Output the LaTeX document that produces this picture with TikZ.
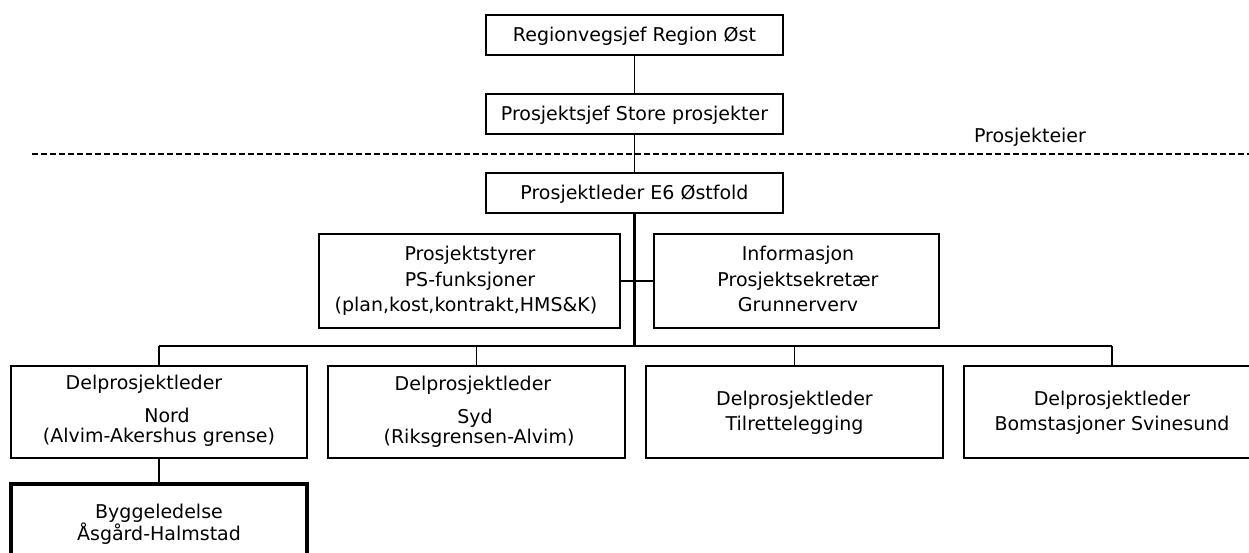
\documentclass[tikz,border=0pt]{standalone}
\usepackage{fontspec}
\setmainfont{DejaVu Sans}
\begin{document}
\begin{tikzpicture}[x=1pt,y=-1pt,
  orgbox/.style={draw=black, line width=1.4pt, rectangle, inner sep=0pt},
  thickbox/.style={draw=black, line width=3.8pt, rectangle, inner sep=0pt},
  lbl/.style={anchor=base, inner sep=0pt, text=black, font=\fontsize{19}{23}\selectfont},
  conn/.style={draw=black, line width=1.3pt},
  busline/.style={draw=black, line width=2.2pt},
  sepline/.style={draw=black, line width=2.6pt, dash pattern=on 6pt off 3pt}]
\useasboundingbox (0,0) rectangle (1249,553);
\clip (0,0) rectangle (1249,553);

% top chain
\node[orgbox, minimum width=297pt, minimum height=40pt] (rv) at (634.5,35) {};
\node[lbl] (rvt) at (634.5,42) {Regionvegsjef Region Øst};
\node[orgbox, minimum width=297pt, minimum height=40pt] (ps) at (634.5,114) {};
\node[lbl] (pst) at (634.5,121) {Prosjektsjef Store prosjekter};
\node[orgbox, minimum width=297pt, minimum height=40pt] (pl) at (634.5,193) {};
\node[lbl] (plt) at (634.5,200) {Prosjektleder E6 Østfold};

% owner line
\coordinate (dl) at (32,154);
\coordinate (dr) at (1249,154);
\node[lbl] (eier) at (1030,143) {Prosjekteier};

% staff boxes
\node[orgbox, minimum width=301pt, minimum height=94pt] (styr) at (469.5,281) {};
\node[lbl] (styr1) at (470,261) {Prosjektstyrer};
\node[lbl] (styr2) at (470,286) {PS-funksjoner};
\node[lbl] (styr3) at (466,311) {(plan,kost,kontrakt,HMS\&K)};
\node[orgbox, minimum width=285pt, minimum height=94pt] (info) at (796.5,281) {};
\node[lbl] (info1) at (798,261) {Informasjon};
\node[lbl] (info2) at (798,286) {Prosjektsekretær};
\node[lbl] (info3) at (798,311) {Grunnerverv};

% sub-project boxes
\node[orgbox, minimum width=296pt, minimum height=92pt] (nord) at (159,412) {};
\node[lbl] (nord1) at (144,389) {Delprosjektleder};
\node[lbl] (nord2) at (167,422) {Nord};
\node[lbl] (nord3) at (159,442) {(Alvim-Akershus grense)};
\node[orgbox, minimum width=297pt, minimum height=92pt] (syd) at (476.5,412) {};
\node[lbl] (syd1) at (473,390) {Delprosjektleder};
\node[lbl] (syd2) at (475,423) {Syd};
\node[lbl] (syd3) at (479,443) {(Riksgrensen-Alvim)};
\node[orgbox, minimum width=297pt, minimum height=92pt] (tilr) at (794.5,412) {};
\node[lbl] (tilr1) at (794.5,405) {Delprosjektleder};
\node[lbl] (tilr2) at (794.5,430) {Tilrettelegging};
\node[orgbox, minimum width=296pt, minimum height=92pt] (bom) at (1112,412) {};
\node[lbl] (bom1) at (1112,405) {Delprosjektleder};
\node[lbl] (bom2) at (1112,430) {Bomstasjoner Svinesund};

% construction management
\node[thickbox, minimum width=296pt, minimum height=92pt] (bygg) at (159,530) {};
\node[lbl] (bygg1) at (159,518) {Byggeledelse};
\node[lbl] (bygg2) at (159,540) {Åsgård-Halmstad};

% connectors
\draw[conn] (rv.south) -- (ps.north);
\draw[conn] (ps.south) -- (pl.north);
\draw[sepline] (dl) -- (dr);
\coordinate (busmid) at (634.5,346);
\coordinate (busL) at (159,346);
\coordinate (busR) at (1112,346);
\draw[busline] (pl.south) -- (busmid);
\draw[conn] (styr.east) -- (info.west);
\draw[busline] (busL) -- (busR);
\draw[conn] (nord.north) -- (busL);
\draw[conn] (syd.north) -- (syd.north |- busL);
\draw[conn] (tilr.north) -- (tilr.north |- busL);
\draw[conn] (bom.north) -- (busR);
\draw[conn] (nord.south) -- (bygg.north);
\end{tikzpicture}
\end{document}
